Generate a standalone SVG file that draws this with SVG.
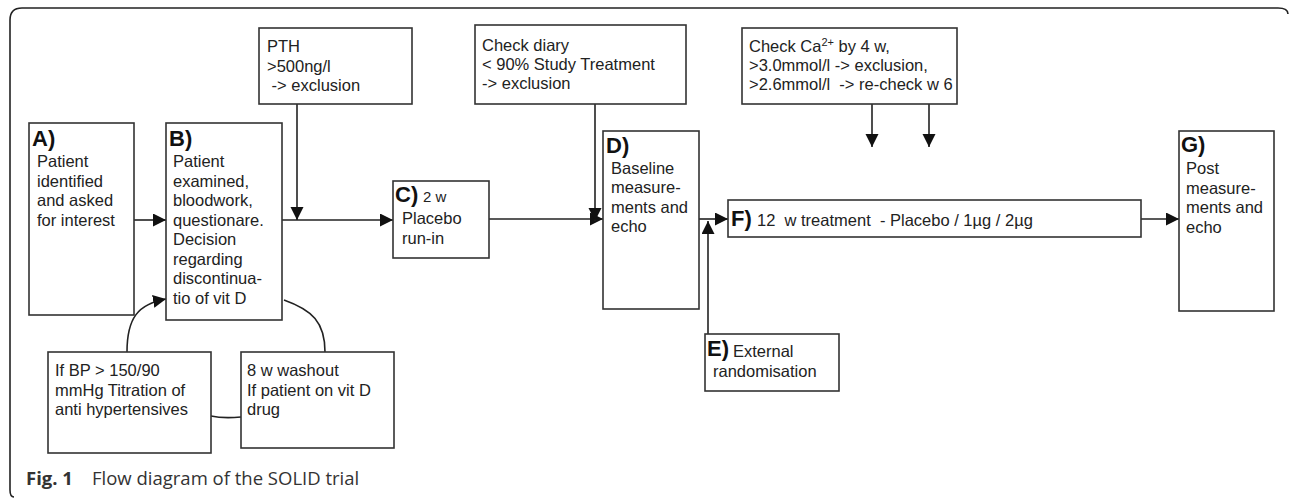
<svg xmlns="http://www.w3.org/2000/svg" width="1290" height="498" viewBox="0 0 1290 498">
<style>
.box{fill:#fff;stroke:#333;stroke-width:1.6}
.t{font-family:"Liberation Sans",Arial,sans-serif;font-size:16.5px;fill:#222}
.lb{font-family:"Liberation Sans",Arial,sans-serif;font-size:22px;font-weight:bold;fill:#111}
.c{fill:none;stroke:#222;stroke-width:1.6}
.cap{font-family:"Open Sans","Noto Sans",sans-serif;font-size:18.5px;fill:#333}
</style>
<defs>
<marker id="ah" markerUnits="userSpaceOnUse" markerWidth="14" markerHeight="14" refX="13" refY="6.5" orient="auto" viewBox="0 0 14 14">
<path d="M0,0 L13,6.5 L0,13 z" fill="#111"/>
</marker>
</defs>
<rect width="1290" height="498" fill="#fff"/>
<path d="M14,497 Q10,497 10,490 V20 Q10,8 22,8 H1278 Q1288,8 1288,14" fill="none" stroke="#222" stroke-width="1.6"/>

<g id="connectors">
<path class="c" d="M134,220 H166" marker-end="url(#ah)"/>
<path class="c" d="M282,220 H393" marker-end="url(#ah)"/>
<path class="c" d="M297,104 V220" marker-end="url(#ah)"/>
<path class="c" d="M489,219 H603" marker-end="url(#ah)"/>
<path class="c" d="M595,104 V221" marker-end="url(#ah)"/>
<path class="c" d="M699,219 H728" marker-end="url(#ah)"/>
<path class="c" d="M708,334 V221" marker-end="url(#ah)"/>
<path class="c" d="M872,104 V147" marker-end="url(#ah)"/>
<path class="c" d="M929,104 V147" marker-end="url(#ah)"/>
<path class="c" d="M1141,219 H1179" marker-end="url(#ah)"/>
<path class="c" d="M127,352 C127,318 138,304 166,299" marker-end="url(#ah)"/>
<path class="c" d="M284,300 C312,310 325,322 325,352"/>
<path class="c" d="M211,416 C220,418 230,418 241,417"/>
</g>

<g id="nodeA">
<rect class="box" x="29" y="123" width="105" height="192"/>
<text class="lb" x="32" y="146">A)</text>
<text class="t" x="37" y="167">Patient</text>
<text class="t" x="37" y="186.5">identified</text>
<text class="t" x="37" y="206">and asked</text>
<text class="t" x="37" y="225.5">for interest</text>
</g>

<g id="nodeB">
<rect class="box" x="166" y="123" width="116" height="197"/>
<text class="lb" x="169" y="146">B)</text>
<text class="t" x="173" y="167">Patient</text>
<text class="t" x="173" y="186.5">examined,</text>
<text class="t" x="173" y="206">bloodwork,</text>
<text class="t" x="173" y="225.5">questionare.</text>
<text class="t" x="173" y="245">Decision</text>
<text class="t" x="173" y="264.5">regarding</text>
<text class="t" x="173" y="284">discontinua-</text>
<text class="t" x="173" y="303.5">tio of vit D</text>
</g>

<g id="nodePTH">
<rect class="box" x="259" y="28" width="153" height="76"/>
<text class="t" x="267" y="52">PTH</text>
<text class="t" x="267" y="71.5">&gt;500ng/l</text>
<text class="t" x="267" y="91" xml:space="preserve"> -&gt; exclusion</text>
</g>

<g id="nodeC">
<rect class="box" x="393" y="181" width="96" height="77"/>
<text class="lb" x="395" y="202">C)</text>
<text class="t" x="423" y="202" style="font-size:15px">2 w</text>
<text class="t" x="402" y="224">Placebo</text>
<text class="t" x="402" y="243.5">run-in</text>
</g>

<g id="nodeDiary">
<rect class="box" x="475" y="25" width="211" height="79"/>
<text class="t" x="482" y="51">Check diary</text>
<text class="t" x="482" y="70">&lt; 90% Study Treatment</text>
<text class="t" x="482" y="89">-&gt; exclusion</text>
</g>

<g id="nodeD">
<rect class="box" x="603" y="131" width="96" height="178"/>
<text class="lb" x="606" y="153">D)</text>
<text class="t" x="611" y="173.5">Baseline</text>
<text class="t" x="611" y="193">measure-</text>
<text class="t" x="611" y="212.5">ments and</text>
<text class="t" x="611" y="232">echo</text>
</g>

<g id="nodeE">
<rect class="box" x="705" y="334" width="134" height="57"/>
<text class="lb" x="707" y="356">E)</text>
<text class="t" x="733" y="357">External</text>
<text class="t" x="713" y="377">randomisation</text>
</g>

<g id="nodeF">
<rect class="box" x="728" y="200" width="413" height="37"/>
<text class="lb" x="731" y="226">F)</text>
<text class="t" x="757" y="226" xml:space="preserve">12  w treatment  - Placebo / 1µg / 2µg</text>
</g>

<g id="nodeCa">
<rect class="box" x="742" y="28" width="215" height="76"/>
<text class="t" x="749" y="52">Check Ca<tspan style="font-size:11px" dy="-6">2+</tspan><tspan dy="6"> by 4 w,</tspan></text>
<text class="t" x="749" y="71">&gt;3.0mmol/l -&gt; exclusion,</text>
<text class="t" x="749" y="90" xml:space="preserve">&gt;2.6mmol/l  -&gt; re-check w 6</text>
</g>

<g id="nodeG">
<rect class="box" x="1179" y="131" width="95" height="180"/>
<text class="lb" x="1181" y="152">G)</text>
<text class="t" x="1186" y="174">Post</text>
<text class="t" x="1186" y="193.5">measure-</text>
<text class="t" x="1186" y="213">ments and</text>
<text class="t" x="1186" y="232.5">echo</text>
</g>

<g id="nodeBP">
<rect class="box" x="48" y="352" width="163" height="101"/>
<text class="t" x="55" y="376">If BP &gt; 150/90</text>
<text class="t" x="55" y="395.5">mmHg Titration of</text>
<text class="t" x="55" y="415">anti hypertensives</text>
</g>

<g id="nodeWashout">
<rect class="box" x="241" y="352" width="153" height="96"/>
<text class="t" x="247" y="376">8 w washout</text>
<text class="t" x="247" y="395.5">If patient on vit D</text>
<text class="t" x="247" y="415">drug</text>
</g>

<g id="caption">
<text class="cap" x="26" y="485"><tspan font-weight="bold">Fig. 1</tspan><tspan x="92">Flow diagram of the SOLID trial</tspan></text>
</g>
</svg>
